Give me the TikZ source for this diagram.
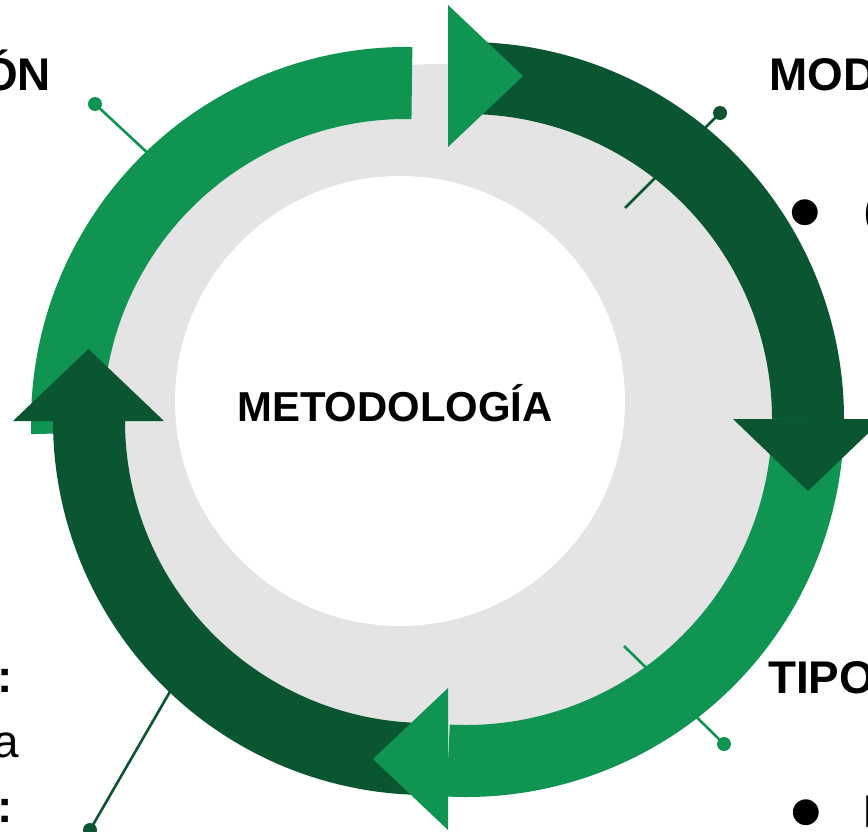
\documentclass[tikz,border=0pt]{standalone}
\usepackage{fontspec}
\setmainfont{Liberation Sans}
\newfontfamily\symfont{DejaVu Sans}
\definecolor{lightgreen}{RGB}{16,148,82}
\definecolor{darkgreen}{RGB}{10,86,48}
\definecolor{ringgray}{RGB}{228,228,228}

\begin{document}
\begin{tikzpicture}[x=1bp,y=-1bp,
    band/.style={line width=72bp},
    dot/.style={circle,inner sep=0pt,minimum size=14bp},
    tick/.style={line width=2.6bp},
    title/.style={inner sep=0pt,font=\fontsize{46}{50}\selectfont\bfseries},
    plain/.style={inner sep=0pt,font=\fontsize{46}{50}\selectfont},
    bullet/.style={inner sep=0pt,font=\symfont\fontsize{34}{40}\selectfont},
  ]
  \useasboundingbox (0,0) rectangle (868,832);
  \fill[white] (0,0) rectangle (868,832);

  % grey ring and white centre
  \fill[ringgray] (440,419) circle (355);
  \fill[white] (400,401) circle (225);
  \node[inner sep=0pt,font=\fontsize{42}{48}\selectfont\bfseries] (centre) at (395,403) {METODOLOGÍA};

  % ticks with dots
  \node[dot,fill=lightgreen] (dotA) at (95,104) {};
  \coordinate (endA) at (152,157);
  \draw[tick,lightgreen] (dotA.center) -- (endA);
  \node[dot,fill=darkgreen] (dotB) at (720,113) {};
  \coordinate (endB) at (625,208);
  \draw[tick,darkgreen] (dotB.center) -- (endB);
  \node[dot,fill=lightgreen] (dotC) at (724,744) {};
  \coordinate (endC) at (624,646);
  \draw[tick,lightgreen] (dotC.center) -- (endC);
  \node[dot,fill=darkgreen] (dotD) at (90,830) {};
  \coordinate (endD) at (175,683);
  \draw[tick,darkgreen] (dotD.center) -- (endD);

  % arrow bodies
  \draw[band,lightgreen] (406,422) ++(178.1:339) arc[start angle=178.1,end angle=271,radius=339];
  \draw[band,darkgreen] (467,419) ++(267.5:341) arc[start angle=267.5,end angle=360,radius=341];
  \draw[band,lightgreen] (466,419) ++(0:342) arc[start angle=0,end angle=93,radius=342];
  \draw[band,darkgreen] (427,421) ++(87.5:338) arc[start angle=87.5,end angle=180,radius=338];

  % arrow heads
  \fill[lightgreen] (448,5) -- (523,76) -- (448,147) -- cycle;
  \fill[darkgreen] (733,419) -- (808,491) -- (883,419) -- cycle;
  \fill[lightgreen] (448,688) -- (373,759) -- (448,830) -- cycle;
  \fill[darkgreen] (13,421) -- (88.5,349) -- (164,421) -- cycle;

  % side texts
  \node[title,anchor=base east] (ttlA) at (51,90) {ÓN};
  \node[title,anchor=base west] (ttlB) at (769,90) {MOD};
  \node[bullet] (bulB) at (805,213) {●};
  \node[plain,anchor=west] (txtB) at (863,215) {(};
  \node[title,anchor=base west] (ttlC) at (768,693) {TIPO};
  \node[bullet] (bulC) at (806,813) {●};
  \node[plain,anchor=base west] (txtC) at (862,827) {I};
  \node[title,anchor=base east] (ttlD1) at (13,692) {:};
  \node[plain,anchor=base east] (txtD) at (19,757) {a};
  \node[title,anchor=base east] (ttlD2) at (13,822) {:};
\end{tikzpicture}
\end{document}
